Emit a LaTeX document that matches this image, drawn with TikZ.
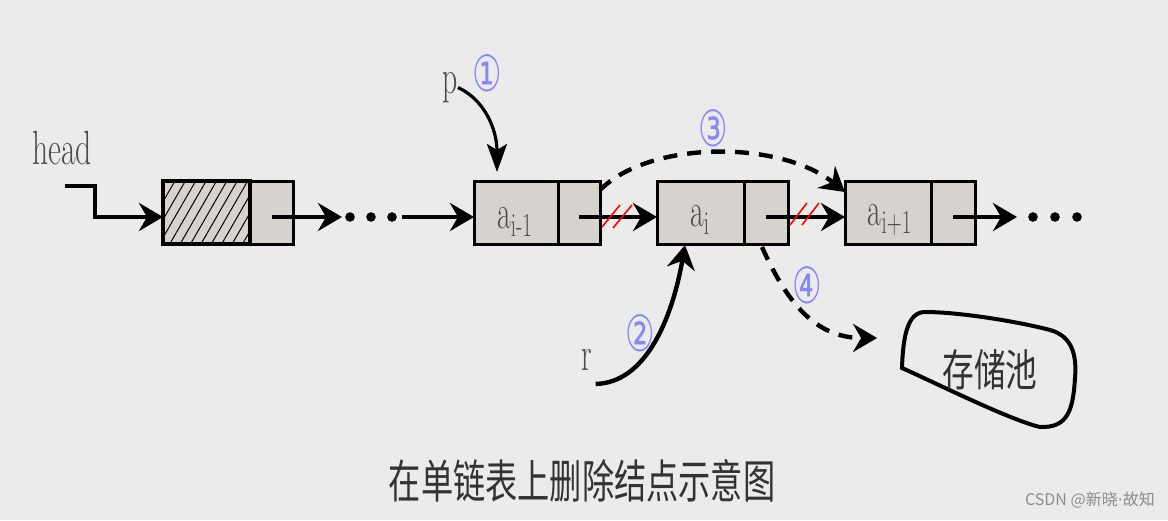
\documentclass[tikz,border=0pt]{standalone}
\usepackage{fontspec}
\usepackage{graphicx}
\usetikzlibrary{arrows.meta,patterns.meta}
\newfontfamily\cjk{Noto Sans CJK SC}
\newfontfamily\djv{DejaVu Sans}
\definecolor{bg}{RGB}{235,235,235}
\definecolor{boxgray}{RGB}{214,211,206}
\definecolor{txtgray}{RGB}{75,75,75}
\definecolor{numblue}{RGB}{135,135,245}
\newcommand{\cnd}[1]{\scalebox{0.62}[1]{#1}}
\newcommand{\cjkc}[1]{\scalebox{0.72}[1]{#1}}
\newcommand{\numc}[1]{\scalebox{0.66}[1]{#1}}

\begin{document}
\begin{tikzpicture}[x=0.5pt,y=-0.5pt,
  fld/.style={draw=black, line width=1.5pt, fill=boxgray, minimum height=31.5pt, inner sep=0pt, outer sep=0pt},
  arr/.style={line width=2.2pt, -{Stealth[length=12pt,width=14pt,inset=4pt]}},
  thinarr/.style={line width=1.6pt, -{Stealth[length=14pt,width=10pt,inset=3pt]}},
  darr/.style={arr, dash pattern=on 7pt off 5pt},
  lbl/.style={text=txtgray, font=\fontsize{24}{24}\selectfont, inner sep=0pt},
  num/.style={text=numblue, font=\djv\fontsize{25}{25}\selectfont, inner sep=0pt},
  slash/.style={draw=red, line width=0.8pt},
  dot/.style={fill=black},
]
% background / bounding box
\fill[bg] (0,0) rectangle (1168,520);
\useasboundingbox (0,0) rectangle (1168,520);

% head node (hatched)
\node[fld, line width=2pt, preaction={fill=boxgray},
      pattern={Lines[angle=60,distance=4.5pt,line width=0.5pt]},
      minimum width=43.5pt] (hd) at (206.5,212.5) {};
\node[fld, minimum width=21.5pt] (hp) at (271.5,212.5) {};

% a_{i-1}
\node[fld, minimum width=42pt] (d1) at (516,212.5) {};
\node[fld, minimum width=21pt] (p1) at (579,212.5) {};
% a_i
\node[fld, minimum width=43.5pt] (d2) at (700.5,212.5) {};
\node[fld, minimum width=22pt] (p2) at (766,212.5) {};
% a_{i+1}
\node[fld, minimum width=43pt] (d3) at (888,212.5) {};
\node[fld, minimum width=22pt] (p3) at (953,212.5) {};

% labels inside boxes
\node[lbl] (t1) at (515,222) {\cnd{a\textsubscript{i-1}}};
\node[lbl] (t2) at (700,220) {\cnd{a\textsubscript{i}}};
\node[lbl] (t3) at (890,220) {\cnd{a\textsubscript{i+1}}};

% head label and pointer
\node[lbl] (head) at (62,148) {\scalebox{0.66}[1]{head}};
\coordinate (hs) at (65,186);
\draw[arr] (hs) -- ++(30,0) |- ([yshift=-2.25pt]hd.west);

% chain arrows
\coordinate (e1) at (342,217);
\coordinate (e2) at (402,217);
\coordinate (e3) at (1017,217);
\draw[arr] ([yshift=-2.25pt]hp.center) -- (e1);
\foreach \x in {350,371,392} \fill[dot] (\x,217) circle[radius=2.4pt];
\draw[arr] (e2) -- ([yshift=-2.25pt]d1.west);
\draw[arr] ([yshift=-2.25pt]p1.center) -- ([yshift=-2.25pt]d2.west);
\draw[arr] ([yshift=-2.25pt]p2.center) -- ([yshift=-2.25pt]d3.west);
\draw[arr] ([yshift=-2.25pt]p3.center) -- (e3);
\foreach \x in {1033,1055,1077} \fill[dot] (\x,217) circle[radius=2.4pt];

% red break marks
\draw[slash] (602,227) -- (620,205);
\draw[slash] (613,228) -- (632,205);
\draw[slash] (790,225) -- (807,203);
\draw[slash] (802,225) -- (819,203);

% step 1: p
\node[lbl] (p) at (450,87.5) {\cnd{p}};
\node[num] (n1) at (487,73) {\numc{①}};
\draw[thinarr] (p.east) .. controls (485,100) and (497,130) .. ([shift={(-9.5pt,4.5pt)}]d1.north);

% step 2: r
\node[lbl] (r) at (587,360) {\cnd{r}};
\node[num] (n2) at (640,333) {\numc{②}};
\draw[arr] ([shift={(1.5pt,-6.5pt)}]r.south east) .. controls (645,383) and (672,320) .. ([shift={(-7.75pt,-0.5pt)}]d2.south);

% step 3: bypass
\node[num] (n3) at (713,128) {\numc{③}};
\draw[darr] ([yshift=-4.5pt]p1.north east) .. controls (650,140) and (780,140) .. ([yshift=-5.5pt]d3.north west);

% storage pool
\draw[line width=2pt] (902,368) .. controls (903,335) and (908,312) .. (925,312)
  .. controls (960,312) and (1020,322) .. (1050,330)
  .. controls (1072,336) and (1077,355) .. (1075,378)
  .. controls (1073,410) and (1068,428) .. (1040,427)
  .. controls (1010,420) and (940,385) .. (902,368) -- cycle;
\node[text=black!80, font=\cjk\fontsize{22}{22}\selectfont, inner sep=0pt] (pool) at (990,370) {\cjkc{存储池}};

% step 4: free
\node[num] (n4) at (807,285) {\numc{④}};
\draw[darr] ([shift={(-2pt,-1.5pt)}]p2.south) .. controls (790,310) and (820,338) .. ([shift={(-32.5pt,16pt)}]pool.west);

% caption
\node[text=black!80, font=\cjk\fontsize{23}{23}\selectfont, inner sep=0pt] (cap) at (582,481) {\scalebox{0.7}[1]{在单链表上删除结点示意图}};

% watermark
\node[text=black!45, font=\cjk\fontsize{8}{8}\selectfont, inner sep=0pt] (wm) at (1090,500) {CSDN @新晓{\djv·}故知};
\end{tikzpicture}
\end{document}
